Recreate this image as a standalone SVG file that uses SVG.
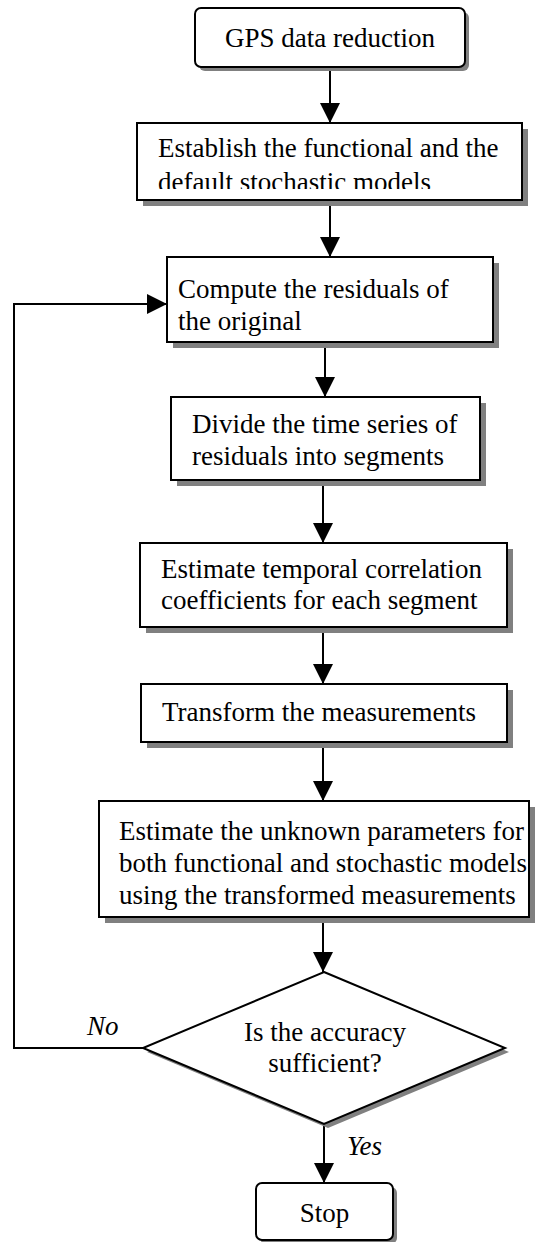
<svg xmlns="http://www.w3.org/2000/svg" width="541" height="1242" viewBox="0 0 541 1242">
  <style>
    .box { fill: #ffffff; stroke: #000000; stroke-width: 2; }
    .shadow { fill: #808080; stroke: none; }
    .label { font-family: "Liberation Serif", "Times New Roman", serif; font-size: 27px; fill: #000000; }
    .tag { font-family: "Liberation Serif", "Times New Roman", serif; font-size: 27px; font-style: italic; fill: #000000; }
    .link { fill: none; stroke: #000000; stroke-width: 2; }
  </style>
  <defs>
    <marker id="arrow" markerUnits="userSpaceOnUse" markerWidth="20" markerHeight="20" refX="20" refY="10" orient="auto">
      <path d="M0,0 L20,10 L0,20 z" fill="#000000"/>
    </marker>
    <clipPath id="clip-models">
      <rect x="137" y="123" width="385" height="66"/>
    </clipPath>
  </defs>

  <rect x="0" y="0" width="541" height="1242" fill="#ffffff"/>

  <!-- connectors -->
  <g id="connectors">
    <line class="link" x1="330" y1="67" x2="330" y2="123" marker-end="url(#arrow)"/>
    <line class="link" x1="330" y1="200" x2="330" y2="257" marker-end="url(#arrow)"/>
    <line class="link" x1="325" y1="342" x2="325" y2="397" marker-end="url(#arrow)"/>
    <line class="link" x1="323" y1="480" x2="323" y2="543" marker-end="url(#arrow)"/>
    <line class="link" x1="323" y1="627" x2="323" y2="684" marker-end="url(#arrow)"/>
    <line class="link" x1="323" y1="742" x2="323" y2="801" marker-end="url(#arrow)"/>
    <line class="link" x1="323" y1="917" x2="323" y2="972" marker-end="url(#arrow)"/>
    <line class="link" x1="324" y1="1124" x2="324" y2="1183" marker-end="url(#arrow)"/>
    <polyline class="link" points="143,1048 14,1048 14,304 167,304" marker-end="url(#arrow)"/>
    <text class="tag" x="87" y="1035">No</text>
    <text class="tag" x="347" y="1155">Yes</text>
  </g>

  <!-- start terminal -->
  <g id="start">
    <rect class="shadow" x="199" y="12" width="270" height="59" rx="6"/>
    <rect class="box" x="195" y="8" width="270" height="59" rx="6"/>
    <text class="label" x="330" y="47" text-anchor="middle">GPS data reduction</text>
  </g>

  <g id="establish-models">
    <rect class="shadow" x="143" y="129" width="385" height="77"/>
    <rect class="box" x="137" y="123" width="385" height="77"/>
    <g clip-path="url(#clip-models)">
      <text class="label" x="158" y="157">Establish the functional and the</text>
      <text class="label" x="158" y="191">default stochastic models</text>
    </g>
  </g>

  <g id="compute-residuals">
    <rect class="shadow" x="173" y="263" width="326" height="85"/>
    <rect class="box" x="167" y="257" width="326" height="85"/>
    <text class="label" x="178" y="298">Compute the residuals of</text>
    <text class="label" x="178" y="330">the original</text>
  </g>

  <g id="divide-segments">
    <rect class="shadow" x="177" y="403" width="309" height="83"/>
    <rect class="box" x="171" y="397" width="309" height="83"/>
    <text class="label" x="192" y="433">Divide the time series of</text>
    <text class="label" x="192" y="465">residuals into segments</text>
  </g>

  <g id="estimate-correlation">
    <rect class="shadow" x="146" y="549" width="367" height="84"/>
    <rect class="box" x="140" y="543" width="367" height="84"/>
    <text class="label" x="161" y="578">Estimate temporal correlation</text>
    <text class="label" x="161" y="609">coefficients for each segment</text>
  </g>

  <g id="transform">
    <rect class="shadow" x="147" y="690" width="366" height="58"/>
    <rect class="box" x="141" y="684" width="366" height="58"/>
    <text class="label" x="162" y="721">Transform the measurements</text>
  </g>

  <g id="estimate-parameters">
    <rect class="shadow" x="105" y="807" width="430" height="116"/>
    <rect class="box" x="99" y="801" width="430" height="116"/>
    <text class="label" x="119" y="840">Estimate the unknown parameters for</text>
    <text class="label" x="119" y="872">both functional and stochastic models</text>
    <text class="label" x="119" y="904">using the transformed measurements</text>
  </g>

  <g id="accuracy-check">
    <polygon class="shadow" points="328,976 509,1052 328,1128 147,1052"/>
    <polygon class="box" points="324,972 505,1048 324,1124 143,1048" stroke-width="1.5"/>
    <text class="label" x="325" y="1041" text-anchor="middle">Is the accuracy</text>
    <text class="label" x="325" y="1072" text-anchor="middle">sufficient?</text>
  </g>

  <!-- end terminal -->
  <g id="stop">
    <rect class="shadow" x="260" y="1187" width="137" height="57" rx="6"/>
    <rect class="box" x="256" y="1183" width="137" height="57" rx="6"/>
    <text class="label" x="324.5" y="1222" text-anchor="middle">Stop</text>
  </g>
</svg>
